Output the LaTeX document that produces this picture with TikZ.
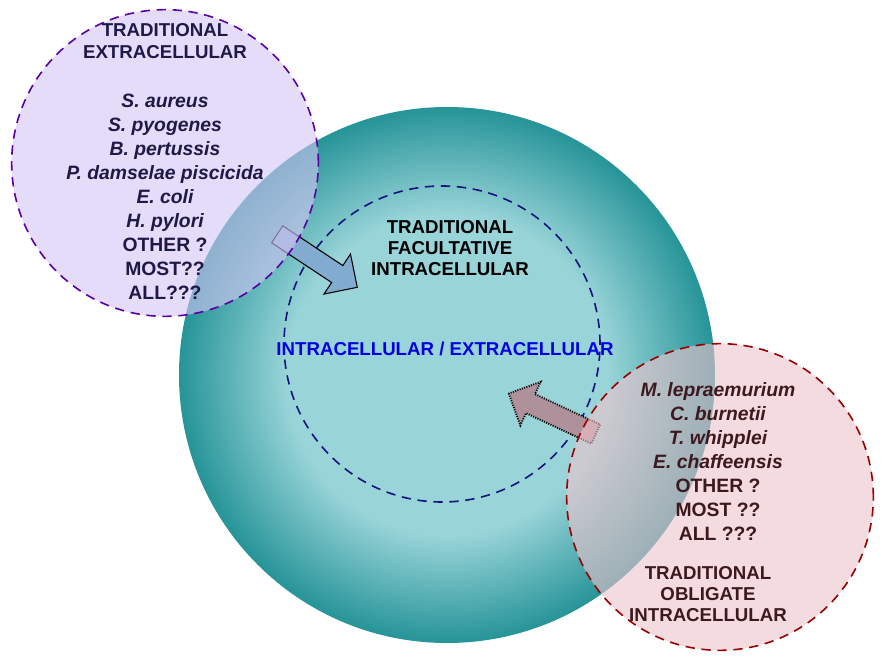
\documentclass[tikz,border=0pt]{standalone}
\usepackage{fontspec}
\setmainfont{Liberation Sans}
\usetikzlibrary{shapes.arrows}
\definecolor{tin}{RGB}{152,212,216}
\definecolor{tout}{RGB}{38,148,152}
\definecolor{navy}{RGB}{30,25,70}
\definecolor{brn}{RGB}{60,25,30}
\definecolor{lav}{RGB}{212,198,245}
\definecolor{pnk}{RGB}{238,196,204}
\definecolor{mauve}{RGB}{175,145,155}
\pgfdeclareradialshading{tealsh}{\pgfpoint{0bp}{0bp}}{color(0bp)=(tin); color(15bp)=(tin); color(25bp)=(tout); color(50bp)=(tout)}
\begin{document}
\begin{tikzpicture}[x=0.75pt,y=-0.75pt,
  lab/.style={font=\bfseries\fontsize{14}{16}\selectfont,align=center},
  spec/.style={font=\bfseries\itshape\fontsize{14.5}{18}\selectfont,align=center},
  barrow/.style={single arrow,draw,minimum height=72,minimum width=36,single arrow head extend=6,inner sep=4,line width=0.8pt}]
\useasboundingbox (0,0) rectangle (886,659);
\fill[white] (0,0) rectangle (886,659);
\node[circle,minimum size=402,inner sep=0,shading=tealsh] (big) at (447,375) {};
\node[circle,draw=navy!70!blue,line width=1.2pt,dash pattern=on 7pt off 5pt,minimum size=237,inner sep=0] (inner) at (442,344) {};
\node[barrow,fill=blue!15!tin!85!gray,rotate=-33.5] (a1) at (313,258) {};
\node[barrow,fill=mauve,densely dotted,line width=1.4pt,rotate=155] (a2) at (557,416) {};
\node[circle,fill=lav,fill opacity=0.6,draw=violet!70!blue,line width=1.2pt,dash pattern=on 7pt off 5pt,minimum size=230,inner sep=0] (pc) at (165,163) {};
\node[circle,fill=pnk,fill opacity=0.6,draw=red!60!black,line width=1.2pt,dash pattern=on 7pt off 5pt,minimum size=230,inner sep=0] (rc) at (720,497) {};
\node[lab,text=navy] (t1) at (165,41) {TRADITIONAL\\EXTRACELLULAR};
\node[spec,text=navy] (s1) at (165,197) {S. aureus\\S. pyogenes\\B. pertussis\\P. damselae piscicida\\E. coli\\H. pylori\\{\upshape OTHER ?}\\{\upshape MOST??}\\{\upshape ALL???}};
\node[lab] (t2) at (450,248) {TRADITIONAL\\FACULTATIVE\\INTRACELLULAR};
\node[lab,text=blue!90!black] (t3) at (445,349) {INTRACELLULAR / EXTRACELLULAR};
\node[spec,text=brn] (s2) at (718,461) {M. lepraemurium\\C. burnetii\\T. whipplei\\E. chaffeensis\\{\upshape OTHER ?}\\{\upshape MOST ??}\\{\upshape ALL ???}};
\node[lab,text=brn] (t4) at (708,594) {TRADITIONAL\\OBLIGATE\\INTRACELLULAR};
\end{tikzpicture}
\end{document}
